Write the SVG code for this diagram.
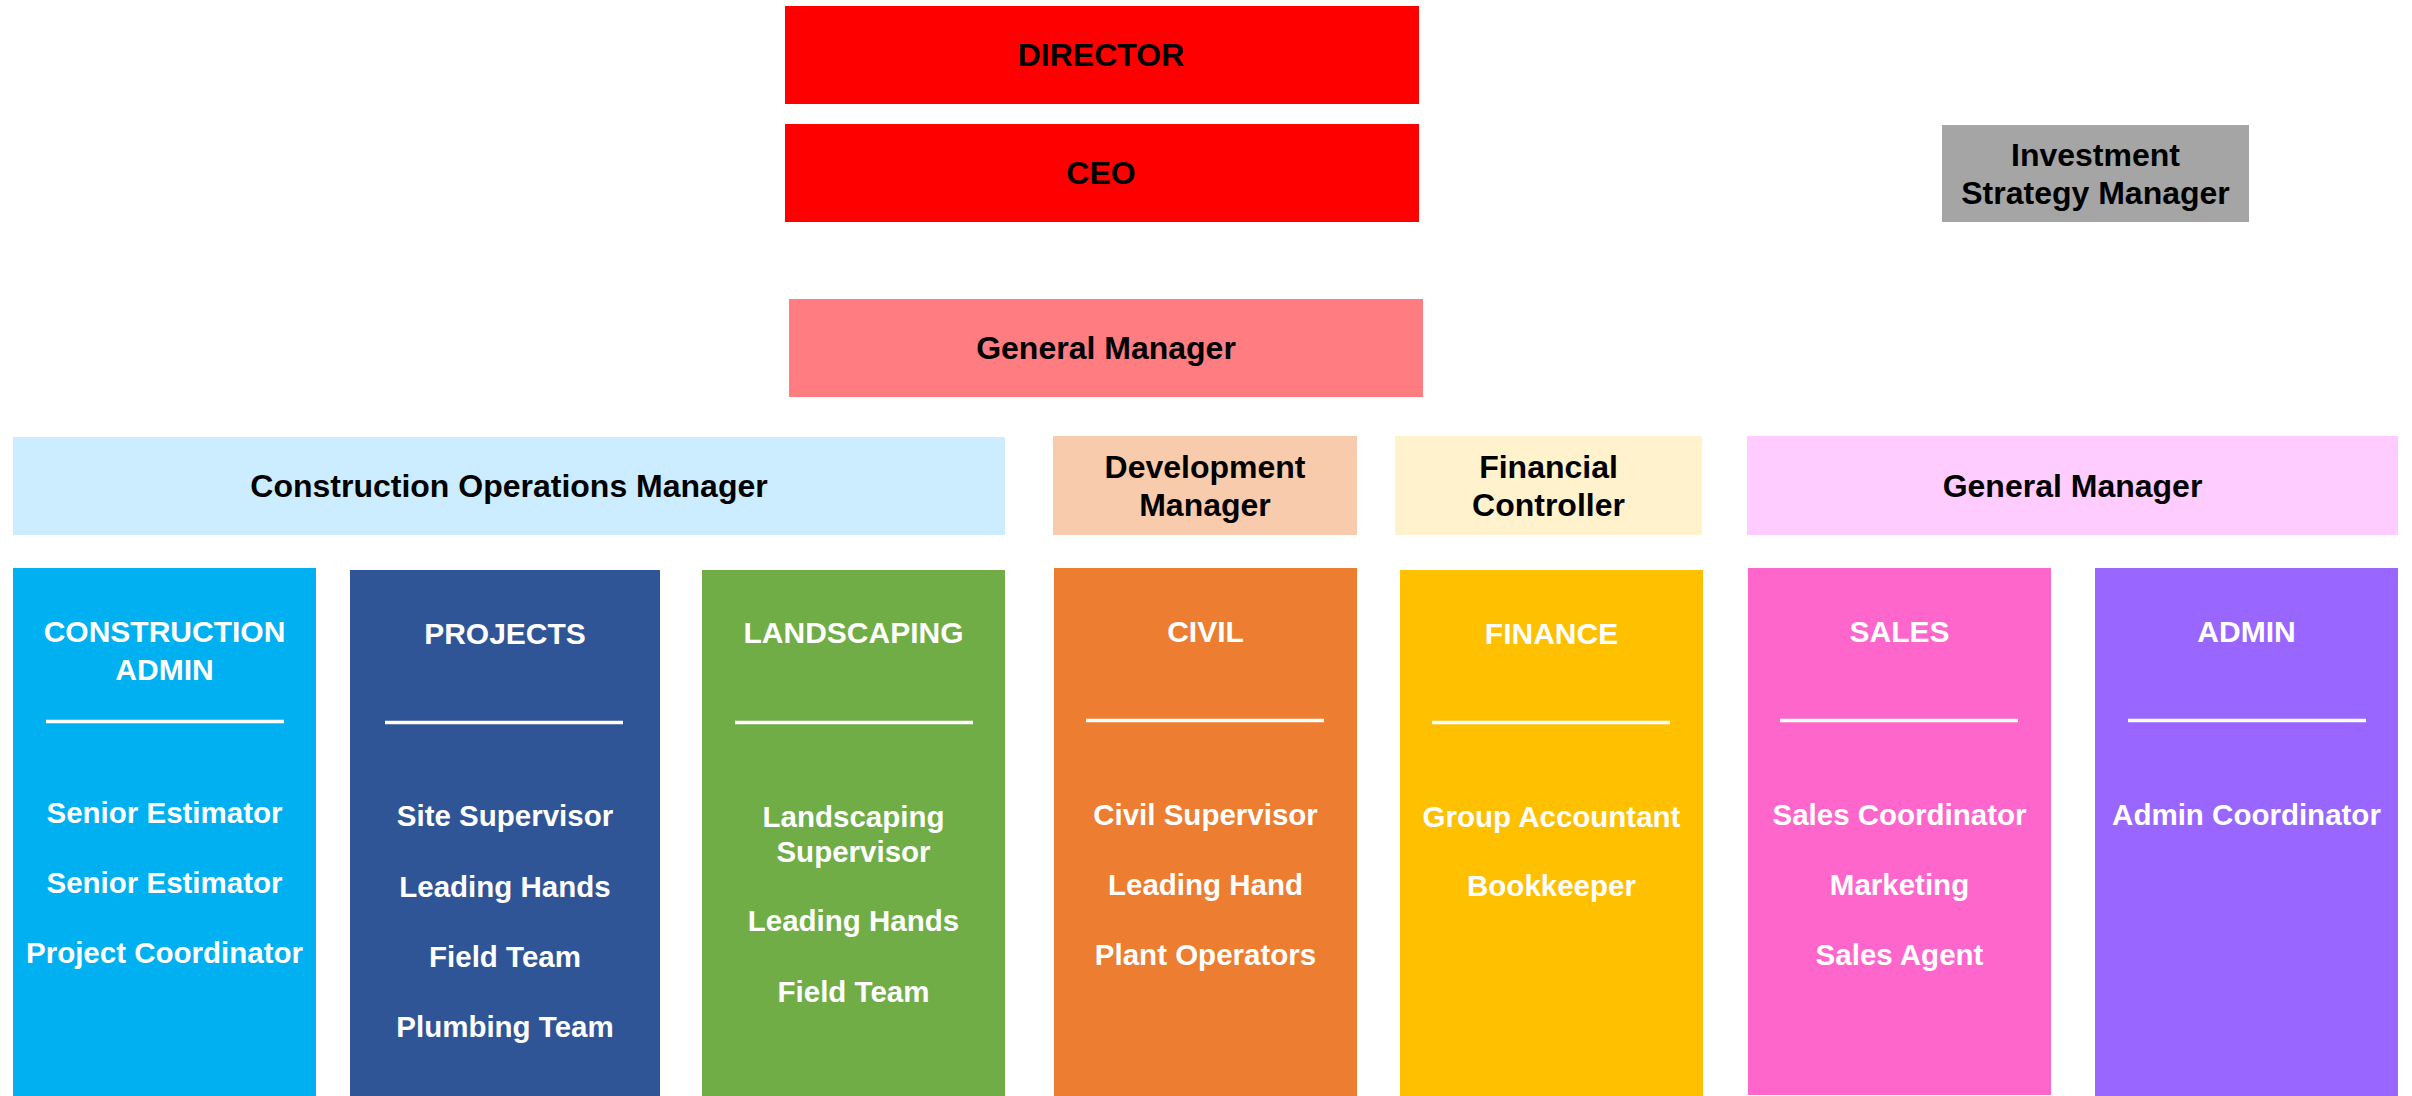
<svg xmlns="http://www.w3.org/2000/svg" width="2412" height="1096" viewBox="0 0 2412 1096">
<style>
text{font-family:"Liberation Sans",Arial,sans-serif;font-weight:bold;text-anchor:middle}
.hd{font-size:32px;fill:#000}
.ti{font-size:30px;fill:#fff}
.it{font-size:29.5px;fill:#fff}
.sep{stroke:#fff;stroke-width:3.5}
</style>
<rect width="2412" height="1096" fill="#fff"/>
<g id="director"><rect x="785" y="6" width="634" height="98" fill="#FF0000"/><text class="hd" x="1101" y="66">DIRECTOR</text></g>
<g id="ceo"><rect x="785" y="124" width="634" height="98" fill="#FF0000"/><text class="hd" x="1101" y="184">CEO</text></g>
<g id="general-manager"><rect x="789" y="299" width="634" height="98" fill="#FF7C80"/><text class="hd" x="1106" y="359">General Manager</text></g>
<g id="investment"><rect x="1942" y="125" width="307" height="97" fill="#A5A5A5"/><text class="hd" x="2095.5" y="166">Investment</text><text class="hd" x="2095.5" y="204">Strategy Manager</text></g>
<g id="construction-ops"><rect x="13" y="437" width="992" height="98" fill="#CCECFF"/><text class="hd" x="509" y="497">Construction Operations Manager</text></g>
<g id="development-manager"><rect x="1053" y="436" width="304" height="99" fill="#F8CBAD"/><text class="hd" x="1205" y="478">Development</text><text class="hd" x="1205" y="516">Manager</text></g>
<g id="financial-controller"><rect x="1395" y="436" width="307" height="99" fill="#FFF2CC"/><text class="hd" x="1548.5" y="478">Financial</text><text class="hd" x="1548.5" y="516">Controller</text></g>
<g id="general-manager-2"><rect x="1747" y="436" width="651" height="99" fill="#FFCCFF"/><text class="hd" x="2072.5" y="497">General Manager</text></g>
<g id="construction-admin"><rect x="13" y="568" width="303" height="528" fill="#00B0F0"/><text class="ti" x="164.5" y="642">CONSTRUCTION</text><text class="ti" x="164.5" y="680">ADMIN</text><line class="sep" x1="46" y1="721.5" x2="284" y2="721.5"/><text class="it" x="164.5" y="823">Senior Estimator</text><text class="it" x="164.5" y="893">Senior Estimator</text><text class="it" x="164.5" y="963">Project Coordinator</text></g>
<g id="projects"><rect x="350" y="570" width="310" height="526" fill="#2F5597"/><text class="ti" x="505" y="644">PROJECTS</text><line class="sep" x1="385" y1="722.5" x2="623" y2="722.5"/><text class="it" x="505" y="826">Site Supervisor</text><text class="it" x="505" y="897">Leading Hands</text><text class="it" x="505" y="967">Field Team</text><text class="it" x="505" y="1037">Plumbing Team</text></g>
<g id="landscaping"><rect x="702" y="570" width="303" height="526" fill="#70AD47"/><text class="ti" x="853.5" y="643">LANDSCAPING</text><line class="sep" x1="735" y1="722.5" x2="973" y2="722.5"/><text class="it" x="853.5" y="827">Landscaping</text><text class="it" x="853.5" y="862">Supervisor</text><text class="it" x="853.5" y="931">Leading Hands</text><text class="it" x="853.5" y="1002">Field Team</text></g>
<g id="civil"><rect x="1054" y="568" width="303" height="528" fill="#ED7D31"/><text class="ti" x="1205.5" y="642">CIVIL</text><line class="sep" x1="1086" y1="720.5" x2="1324" y2="720.5"/><text class="it" x="1205.5" y="825">Civil Supervisor</text><text class="it" x="1205.5" y="895">Leading Hand</text><text class="it" x="1205.5" y="965">Plant Operators</text></g>
<g id="finance"><rect x="1400" y="570" width="303" height="526" fill="#FFC000"/><text class="ti" x="1551.5" y="644">FINANCE</text><line class="sep" x1="1432" y1="722.5" x2="1670" y2="722.5"/><text class="it" x="1551.5" y="827">Group Accountant</text><text class="it" x="1551.5" y="896">Bookkeeper</text></g>
<g id="sales"><rect x="1748" y="568" width="303" height="527" fill="#FF66CC"/><text class="ti" x="1899.5" y="642">SALES</text><line class="sep" x1="1780" y1="720.5" x2="2018" y2="720.5"/><text class="it" x="1899.5" y="825">Sales Coordinator</text><text class="it" x="1899.5" y="895">Marketing</text><text class="it" x="1899.5" y="965">Sales Agent</text></g>
<g id="admin"><rect x="2095" y="568" width="303" height="528" fill="#9966FF"/><text class="ti" x="2246.5" y="642">ADMIN</text><line class="sep" x1="2128" y1="720.5" x2="2366" y2="720.5"/><text class="it" x="2246.5" y="825">Admin Coordinator</text></g>
<g id="connectors"></g>
</svg>
